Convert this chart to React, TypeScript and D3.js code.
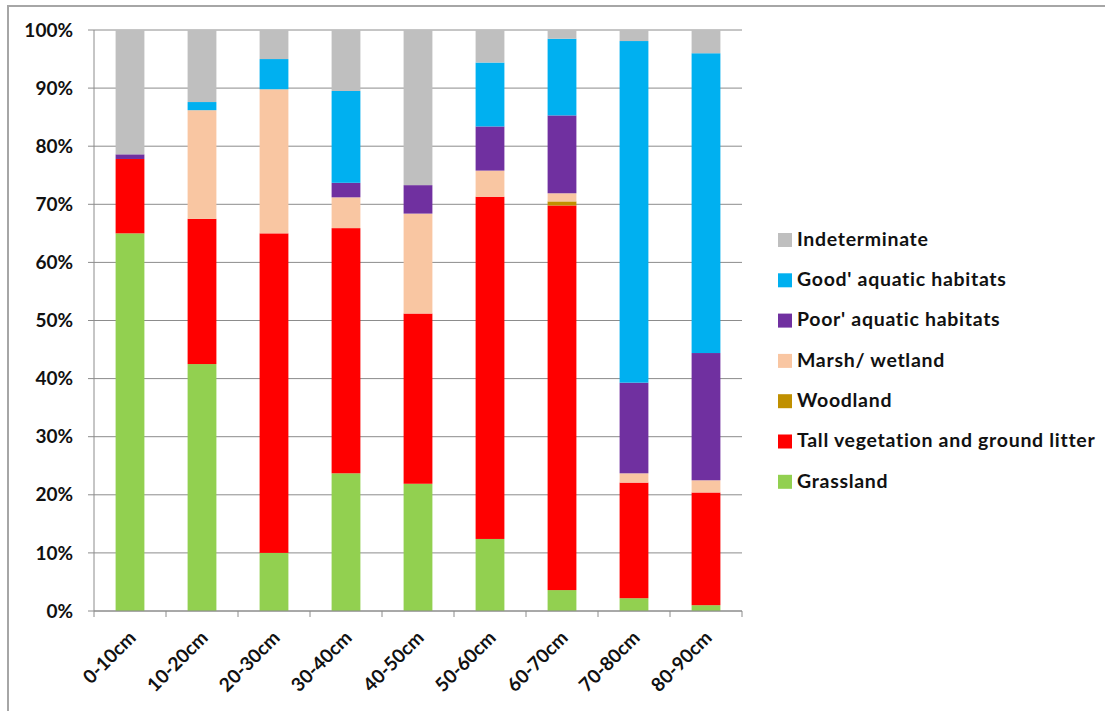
import React from "react";
import * as d3 from "d3";

const categories = ["0-10cm", "10-20cm", "20-30cm", "30-40cm", "40-50cm", "50-60cm", "60-70cm", "70-80cm", "80-90cm"];
const seriesNames = [
  "Grassland",
  "Tall vegetation and ground litter",
  "Woodland",
  "Marsh/ wetland",
  "Poor' aquatic habitats",
  "Good' aquatic habitats",
  "Indeterminate",
];
const grassland = [65, 42.5, 10, 23.7, 21.9, 12.4, 3.6, 2.2, 1.0];
const tallVegetation = [12.8, 25, 55, 42.2, 29.3, 58.9, 66.2, 19.9, 19.4];
const woodland = [0, 0, 0, 0, 0, 0, 0.7, 0, 0];
const marsh = [0, 18.7, 24.8, 5.3, 17.2, 4.5, 1.4, 1.6, 2.1];
const poorAquatic = [0.8, 0, 0, 2.5, 4.9, 7.6, 13.4, 15.6, 21.9];
const goodAquatic = [0, 1.4, 5.2, 15.8, 0, 11, 13.2, 58.8, 51.6];
const indeterminate = [21.4, 12.4, 5, 10.5, 26.7, 5.6, 1.5, 1.9, 4.0];
const colors = ["#92d050", "#ff0000", "#c09000", "#f9c6a2", "#7030a0", "#00b0f0", "#bfbfbf"];
const yTicks = [0, 10, 20, 30, 40, 50, 60, 70, 80, 90, 100];

const seriesValues = [grassland, tallVegetation, woodland, marsh, poorAquatic, goodAquatic, indeterminate];

export default function App() {
  const left = 94;
  const right = 742;
  const top = 30;
  const bottom = 611;
  const font = "Lato, 'Open Sans', sans-serif";

  const x = d3.scaleBand<string>().domain(categories).range([left, right]).paddingInner(0.6).paddingOuter(0.3);
  const y = d3.scaleLinear().domain([0, 100]).range([bottom, top]);

  const rows = categories.map((c, i) => {
    const r: any = { cat: c };
    seriesNames.forEach((s, k) => (r[s] = seriesValues[k][i]));
    return r;
  });
  const stacked = d3.stack().keys(seriesNames)(rows);

  const step = x.step();
  const boundaries = d3.range(categories.length + 1).map((i) => left + i * step);

  const legendItems = seriesNames.map((s, k) => ({ name: s, color: colors[k] })).reverse();

  return (
    <svg
      width={1105}
      height={711}
      style={{ display: "block", position: "absolute", left: 0, top: 0 }}
    >
      <rect x={0} y={0} width={1105} height={711} fill="#fff" />
      <rect x={8} y={6} width={1120} height={720} fill="#fff" stroke="#a6a6a6" strokeWidth={2} />
      {yTicks.map((t) => (
        <line key={"g" + t} x1={left} x2={right} y1={y(t)} y2={y(t)} stroke="#8c8c8c" strokeWidth={1} />
      ))}
      {stacked.map((layer, k) => (
        <g key={layer.key} fill={colors[k]}>
          {layer.map((d, i) => (
            <rect
              key={i}
              x={x(categories[i])}
              width={x.bandwidth()}
              y={y(d[1])}
              height={Math.max(0, y(d[0]) - y(d[1]))}
            />
          ))}
        </g>
      ))}
      <line x1={left} x2={left} y1={top} y2={bottom} stroke="#8c8c8c" />
      <line x1={left} x2={right} y1={bottom} y2={bottom} stroke="#8c8c8c" />
      {yTicks.map((t) => (
        <g key={"t" + t}>
          <line x1={left - 6} x2={left} y1={y(t)} y2={y(t)} stroke="#8c8c8c" />
          <text
            x={left - 21}
            y={y(t)}
            dy="0.35em"
            textAnchor="end"
            fontFamily={font}
            fontSize={19}
            fontWeight={700}
            fill="#111"
          >
            {t}%
          </text>
        </g>
      ))}
      {boundaries.map((b, i) => (
        <line key={"b" + i} x1={b} x2={b} y1={bottom} y2={bottom + 6} stroke="#8c8c8c" />
      ))}
      {categories.map((c) => {
        const cx = (x(c) as number) + x.bandwidth() / 2 + 7;
        const cy = bottom + 28;
        return (
          <text
            key={c}
            transform={`translate(${cx},${cy}) rotate(-45)`}
            textAnchor="end"
            fontFamily={font}
            fontSize={19}
            fontWeight={700}
            fill="#111"
          >
            {c}
          </text>
        );
      })}
      {legendItems.map((it, i) => {
        const ly = 239 + i * 40.3;
        return (
          <g key={it.name}>
            <rect x={778} y={ly - 6} width={14} height={14} fill={it.color} />
            <text
              x={797}
              y={ly}
              dy="0.35em"
              fontFamily={font}
              fontSize={19.5}
              fontWeight={700}
              letterSpacing={0.7}
              fill="#111"
            >
              {it.name}
            </text>
          </g>
        );
      })}
    </svg>
  );
}
